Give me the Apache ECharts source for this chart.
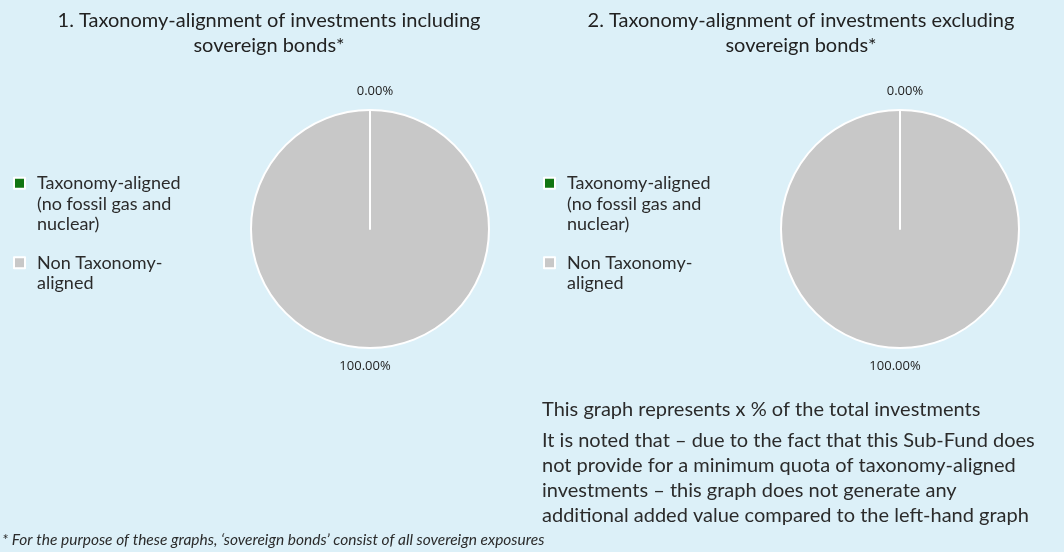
<!DOCTYPE html>
<html>
<head>
<meta charset="utf-8">
<script src="https://cdn.jsdelivr.net/npm/echarts@6/dist/echarts.min.js"></script>
<style>
html,body{margin:0;padding:0;background:#dcf0f8;}
#c{width:1064px;height:552px;}
</style>
</head>
<body>
<div id="c"></div>
<script>
const categories = ['Taxonomy-aligned (no fossil gas and nuclear)', 'Non Taxonomy-aligned'];
const legendLines = [['Taxonomy-aligned', '(no fossil gas and', 'nuclear)'], ['Non Taxonomy-', 'aligned']];
const valuesIncl = [0.00, 100.00];
const valuesExcl = [0.00, 100.00];
const colors = ['#127512', '#c8c8c8'];
const titles = ['1. Taxonomy-alignment of investments including\nsovereign bonds*', '2. Taxonomy-alignment of investments excluding\nsovereign bonds*'];
const noteLine = 'This graph represents x % of the total investments';
const notePara = 'It is noted that \u2013 due to the fact that this Sub-Fund does\nnot provide for a minimum quota of taxonomy-aligned\ninvestments \u2013 this graph does not generate any\nadditional added value compared to the left-hand graph';
const footnote = '* For the purpose of these graphs, \u2018sovereign bonds\u2019 consist of all sovereign exposures';

const FONT = 'Lato';
const chart = echarts.init(document.getElementById('c'), null, {renderer: 'canvas'});

function legendFmt(name) {
  const idx = categories.indexOf(name);
  const lines = legendLines[idx];
  // leading blank lines so that the icon lines up with the first text line
  return '\n'.repeat(lines.length - 1) + lines.join('\n');
}

function pieSeries(values, cx) {
  // draw the large slice first so the zero slice's white edge stays on top
  const order = [1, 0];
  return {
    type: 'pie',
    center: [cx, 229],
    radius: [0, 119],
    startAngle: 90,
    clockwise: true,
    avoidLabelOverlap: false,
    minShowLabelAngle: 0,
    label: {
      show: true,
      position: 'outside',
      formatter: p => p.value.toFixed(2) + '%',
      fontFamily: 'Open Sans',
      fontSize: 13,
      color: '#222'
    },
    labelLine: {show: false, length: 18.5, length2: 0},
    labelLayout: () => ({align: 'center', verticalAlign: 'middle'}),
    itemStyle: {borderColor: '#ffffff', borderWidth: 2},
    emphasis: {disabled: true},
    data: order.map(i => ({name: categories[i], value: values[i], itemStyle: {color: colors[i]}}))
  };
}

function legends(left) {
  return categories.map((c, i) => ({
    left: left,
    top: i === 0 ? 127 : 227,
    orient: 'vertical',
    icon: 'rect',
    itemWidth: 11,
    itemHeight: 11,
    itemGap: 0,
    data: [c],
    formatter: legendFmt,
    selectedMode: false,
    textStyle: {fontFamily: FONT, fontSize: 18, lineHeight: 20.5, color: '#2b2b2b', padding: [0, 0, 0, 7]}
  }));
}

const option = {
  backgroundColor: '#dcf0f8',
  animation: false,
  title: [
    {text: titles[0], left: 264, top: 3, textAlign: 'center',
     textStyle: {fontFamily: FONT, fontSize: 20, fontWeight: 'normal', lineHeight: 25, color: '#222', align: 'center'}},
    {text: titles[1], left: 796, top: 3, textAlign: 'center',
     textStyle: {fontFamily: FONT, fontSize: 20, fontWeight: 'normal', lineHeight: 25, color: '#222', align: 'center'}},
    {text: noteLine, left: 537, top: 392,
     textStyle: {fontFamily: FONT, fontSize: 20, fontWeight: 'normal', lineHeight: 25, color: '#2b2b2b'}},
    {text: notePara, left: 537, top: 423,
     textStyle: {fontFamily: FONT, fontSize: 20, fontWeight: 'normal', lineHeight: 25, color: '#2b2b2b'}},
    {text: footnote, left: -3, top: 524,
     textStyle: {fontFamily: FONT, fontSize: 15.5, fontStyle: 'italic', fontWeight: 'normal', lineHeight: 22, color: '#2b2b2b'}}
  ],
  legend: legends(8).concat(legends(538)),
  series: [pieSeries(valuesIncl, 370), pieSeries(valuesExcl, 900)]
};
chart.setOption(option);
</script>
</body>
</html>
